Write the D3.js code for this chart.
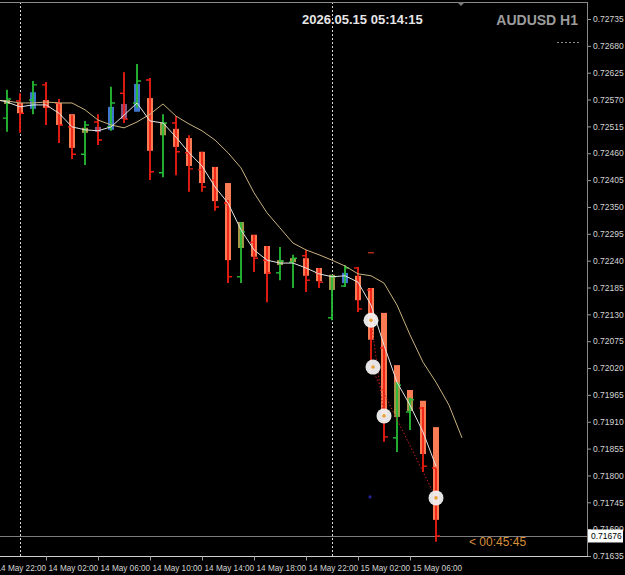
<!DOCTYPE html>
<html>
<head>
<meta charset="utf-8">
<script src="https://cdn.jsdelivr.net/npm/d3@7"></script>
<style>
  body { margin: 0; background: #000; }
  svg { display: block; }
  .axis text { font-family: "Liberation Sans", Arial, sans-serif; font-size: 8.5px; fill: #d4d4d4; }
  .xaxis text { font-size: 8.2px; }
  .axis line { stroke: #9a9a9a; }
  .axis path { display: none; }
</style>
</head>
<body>
<svg id="chart" width="625" height="575"></svg>
<script>
// AUDUSD H1 bars, first bar = 13 May 23:00
var openP  = [0.72532,0.72567,0.72569,0.72600,0.72563,0.72514,0.72458,0.72524,0.72514,0.72583,0.72563,0.72610,0.72420,0.72522,0.72461,0.72426,0.72405,0.72358,0.72207,0.72278,0.72241,0.72215,0.72237,0.72250,0.72215,0.72123,0.72188,0.72225,0.72180,0.72061,0.71877,0.71930,0.71938,0.71815];
var highP  = [0.72590,0.72583,0.72608,0.72606,0.72571,0.72538,0.72526,0.72540,0.72596,0.72626,0.72643,0.72614,0.72540,0.72536,0.72497,0.72463,0.72432,0.72364,0.72319,0.72293,0.72270,0.72268,0.72252,0.72262,0.72225,0.72211,0.72231,0.72227,0.72184,0.72067,0.71991,0.71959,0.71940,0.71815];
var lowP   = [0.72504,0.72502,0.72540,0.72518,0.72481,0.72448,0.72436,0.72477,0.72506,0.72522,0.72553,0.72405,0.72411,0.72415,0.72381,0.72381,0.72342,0.72194,0.72194,0.72217,0.72155,0.72200,0.72184,0.72176,0.72184,0.72118,0.72186,0.72135,0.72010,0.71869,0.71848,0.71893,0.71807,0.71664];
var closeP = [0.72571,0.72542,0.72600,0.72555,0.72518,0.72458,0.72518,0.72487,0.72563,0.72530,0.72608,0.72422,0.72522,0.72463,0.72428,0.72391,0.72350,0.72207,0.72299,0.72245,0.72215,0.72239,0.72245,0.72200,0.72196,0.72207,0.72225,0.72141,0.72020,0.71879,0.71985,0.71955,0.71819,0.71676];

// heiken ashi bodies
var haOpen  = [0.72569,0.72563,0.72551,0.72569,0.72563,0.72540,0.72512,0.72504,0.72508,0.72530,0.72545,0.72573,0.72522,0.72510,0.72491,0.72463,0.72432,0.72399,0.72319,0.72293,0.72270,0.72241,0.72245,0.72245,0.72225,0.72211,0.72194,0.72209,0.72184,0.72133,0.72026,0.71975,0.71953,0.71899];
var haClose = [0.72561,0.72542,0.72585,0.72553,0.72518,0.72471,0.72502,0.72514,0.72555,0.72561,0.72602,0.72465,0.72497,0.72473,0.72434,0.72399,0.72362,0.72241,0.72266,0.72248,0.72213,0.72231,0.72237,0.72209,0.72198,0.72180,0.72215,0.72159,0.72078,0.71920,0.71920,0.71932,0.71844,0.71709];

// moving averages, first value one bar before the first bar
var fastMA = [0.72571,0.72565,0.72555,0.72559,0.72559,0.72542,0.72514,0.72508,0.72506,0.72514,0.72538,0.72563,0.72526,0.72522,0.72493,0.72461,0.72434,0.72391,0.72358,0.72303,0.72262,0.72241,0.72235,0.72235,0.72225,0.72213,0.72207,0.72209,0.72196,0.72149,0.72067,0.71991,0.71944,0.71889,0.71819];
var slowMA = [0.72569,0.72567,0.72563,0.72563,0.72565,0.72563,0.72563,0.72549,0.72528,0.72518,0.72512,0.72524,0.72540,0.72561,0.72536,0.72520,0.72506,0.72487,0.72461,0.72430,0.72379,0.72338,0.72307,0.72276,0.72262,0.72252,0.72241,0.72229,0.72213,0.72209,0.72194,0.72149,0.72088,0.72032,0.71991,0.71944,0.71877];

// signal circles [bar, price]
var signals = [[28,0.72118],[28,0.72022],[29,0.71922],[33,0.71754]];
var signalLinks = [[0,2],[1,3]];

var priceTicks = [];
for (var t = 0; t <= 20; t++) priceTicks.push(0.72735 - t*0.00055);
var timeIdx = [-1,3,7,11,15,19,23,27,31];
var timeLabels = ["14 May 22:00","14 May 02:00","14 May 06:00","14 May 10:00","14 May 14:00","14 May 18:00","14 May 22:00","15 May 02:00","15 May 06:00"];
var separators = [1,25];
var lastPrice = 0.71676;

var svg = d3.select("#chart");
var W = 625, H = 575;
var plotRight = 588, plotBottom = 556, plotTop = 2;

svg.append("rect").attr("width",W).attr("height",H).attr("fill","#000");

var x = d3.scaleLinear().domain([0,33]).range([7,436]);
var y = d3.scaleLinear().domain([0.71635,0.72735]).range([556,19]);

svg.append("clipPath").attr("id","clip")
  .append("rect").attr("x",0).attr("y",plotTop).attr("width",plotRight-0.5).attr("height",plotBottom-plotTop);
var g = svg.append("g").attr("clip-path","url(#clip)");

// day separators
g.selectAll(".sep").data(separators).enter().append("line")
  .attr("x1",function(d){return x(d)+0.5;}).attr("x2",function(d){return x(d)+0.5;})
  .attr("y1",plotTop).attr("y2",plotBottom)
  .attr("stroke","#d8d8d8").attr("stroke-dasharray","2,2");

// last price line
g.append("line").attr("x1",0).attr("x2",plotRight).attr("y1",Math.round(y(lastPrice))+0.5).attr("y2",Math.round(y(lastPrice))+0.5)
  .attr("stroke","#7c7c7c");

var idx = d3.range(openP.length);
var green = "#25bd36", red = "#f21d12";
function barCol(i){ return closeP[i] >= openP[i] ? green : red; }
function bodyCol(i){ return haClose[i] >= haOpen[i] ? "#3f77cf" : "#f97c55"; }

// bodies
g.selectAll(".body").data(idx).enter().append("rect")
  .attr("x",function(i){return x(i)-3;}).attr("width",6)
  .attr("y",function(i){return y(Math.max(haOpen[i],haClose[i]));})
  .attr("height",function(i){return Math.max(1.5, Math.abs(y(haOpen[i])-y(haClose[i])));})
  .attr("fill",bodyCol);

// tint where bar and body disagree
g.selectAll(".tint").data(idx.filter(function(i){
    return (closeP[i] >= openP[i]) !== (haClose[i] >= haOpen[i]);
  })).enter().append("rect")
  .attr("x",function(i){return x(i)-3;}).attr("width",6)
  .attr("y",function(i){return y(Math.min(highP[i],Math.max(haOpen[i],haClose[i])));})
  .attr("height",function(i){
    var t = Math.min(highP[i],Math.max(haOpen[i],haClose[i]));
    var b = Math.max(lowP[i],Math.min(haOpen[i],haClose[i]));
    return Math.max(1.5, y(b)-y(t));
  })
  .attr("fill",barCol).attr("opacity",0.4);

// wicks and open/close ticks
g.selectAll(".wick").data(idx).enter().append("line")
  .attr("x1",function(i){return x(i);}).attr("x2",function(i){return x(i);})
  .attr("y1",function(i){return y(highP[i]);}).attr("y2",function(i){return y(lowP[i]);})
  .attr("stroke",barCol).attr("stroke-width",1.8);
g.selectAll(".otick").data(idx).enter().append("line")
  .attr("x1",function(i){return x(i)-4;}).attr("x2",function(i){return x(i);})
  .attr("y1",function(i){return y(openP[i]);}).attr("y2",function(i){return y(openP[i]);})
  .attr("stroke",barCol).attr("stroke-width",1.4);
g.selectAll(".ctick").data(idx).enter().append("line")
  .attr("x1",function(i){return x(i);}).attr("x2",function(i){return x(i)+4;})
  .attr("y1",function(i){return y(closeP[i]);}).attr("y2",function(i){return y(closeP[i]);})
  .attr("stroke",barCol).attr("stroke-width",1.4);

// moving averages
var line = d3.line().x(function(d){return x(d[0]);}).y(function(d){return y(d[1]);});
g.append("path").attr("d",line(slowMA.map(function(v,i){return [i-1,v];})))
  .attr("fill","none").attr("stroke","#c8b27e").attr("stroke-width",1);
g.append("path").attr("d",line(fastMA.map(function(v,i){return [i-1,v];})))
  .attr("fill","none").attr("stroke","#e4e4e4").attr("stroke-width",1);

// signal links
g.selectAll(".link").data(signalLinks).enter().append("line")
  .attr("x1",function(d){return x(signals[d[0]][0]);}).attr("y1",function(d){return y(signals[d[0]][1]);})
  .attr("x2",function(d){return x(signals[d[1]][0]);}).attr("y2",function(d){return y(signals[d[1]][1]);})
  .attr("stroke","#c42020").attr("stroke-width",1).attr("stroke-dasharray","1.5,2");

// misc marks
g.append("line").attr("x1",x(28)-3).attr("x2",x(28)+3).attr("y1",y(0.72256)).attr("y2",y(0.72256))
  .attr("stroke","#a82a18").attr("stroke-width",1.5);
g.append("circle").attr("cx",x(28)-1).attr("cy",y(0.71756)).attr("r",1.6).attr("fill","#22229a");

// signal circles
g.selectAll(".sig").data(signals).enter().append("circle")
  .attr("cx",function(d,i){return x(d[0]) + (i==1 ? 2 : 0);}).attr("cy",function(d){return y(d[1]);})
  .attr("r",7.5).attr("fill","#f0f0f0").attr("opacity",0.95);
g.selectAll(".sigc").data(signals).enter().append("circle")
  .attr("cx",function(d,i){return x(d[0]) + (i==1 ? 2 : 0);}).attr("cy",function(d){return y(d[1]);})
  .attr("r",1.8).attr("fill","#e8a23a");

// frame
svg.append("line").attr("x1",0).attr("x2",plotRight).attr("y1",plotTop+0.5).attr("y2",plotTop+0.5).attr("stroke","#8a8a8a");
svg.append("line").attr("x1",plotRight-0.5).attr("x2",plotRight-0.5).attr("y1",plotTop).attr("y2",plotBottom).attr("stroke","#8a8a8a");
svg.append("line").attr("x1",0).attr("x2",plotRight).attr("y1",plotBottom+0.5).attr("y2",plotBottom+0.5).attr("stroke","#d0d0d0");

// price axis
var yAxis = d3.axisRight(y).tickValues(priceTicks).tickFormat(d3.format(".5f")).tickSize(3).tickPadding(2);
svg.append("g").attr("class","axis").attr("transform","translate("+plotRight+",0)").call(yAxis);

// time axis
var xAxis = d3.axisBottom(x).tickValues(timeIdx).tickSize(4).tickPadding(5)
  .tickFormat(function(d,i){return timeLabels[i];});
var xa = svg.append("g").attr("class","axis xaxis").attr("transform","translate(0,"+(plotBottom+0.5)+")").call(xAxis);
xa.selectAll("text").attr("text-anchor","start").attr("x",2);

// last price box
svg.append("rect").attr("x",plotRight).attr("y",y(lastPrice)-6.5).attr("width",35).attr("height",13).attr("fill","#ffffff");
svg.append("text").attr("x",plotRight+3).attr("y",y(lastPrice)+3)
  .attr("font-family","Liberation Sans, Arial, sans-serif").attr("font-size","8.5px").attr("fill","#000")
  .text(d3.format(".5f")(lastPrice));

// countdown
svg.append("text").attr("x",469).attr("y",546)
  .attr("font-family","Liberation Sans, Arial, sans-serif").attr("font-size","12px").attr("fill","#d98f3a")
  .text("< 00:45:45");

// header texts
svg.append("text").attr("x",302).attr("y",24)
  .attr("font-family","Liberation Sans, Arial, sans-serif").attr("font-weight","bold").attr("font-size","13px").attr("fill","#e6e6e6")
  .text("2026.05.15 05:14:15");
svg.append("text").attr("x",578).attr("y",25).attr("text-anchor","end")
  .attr("font-family","Liberation Sans, Arial, sans-serif").attr("font-weight","bold").attr("font-size","14px").attr("fill","#9c9c9c")
  .text("AUDUSD H1");
svg.append("line").attr("x1",557).attr("x2",579).attr("y1",42.5).attr("y2",42.5)
  .attr("stroke","#8c8c8c").attr("stroke-dasharray","2,2");
svg.append("path").attr("d","M457,2 L465,2 L461,6 Z").attr("fill","#7a7a7a");
</script>
</body>
</html>
